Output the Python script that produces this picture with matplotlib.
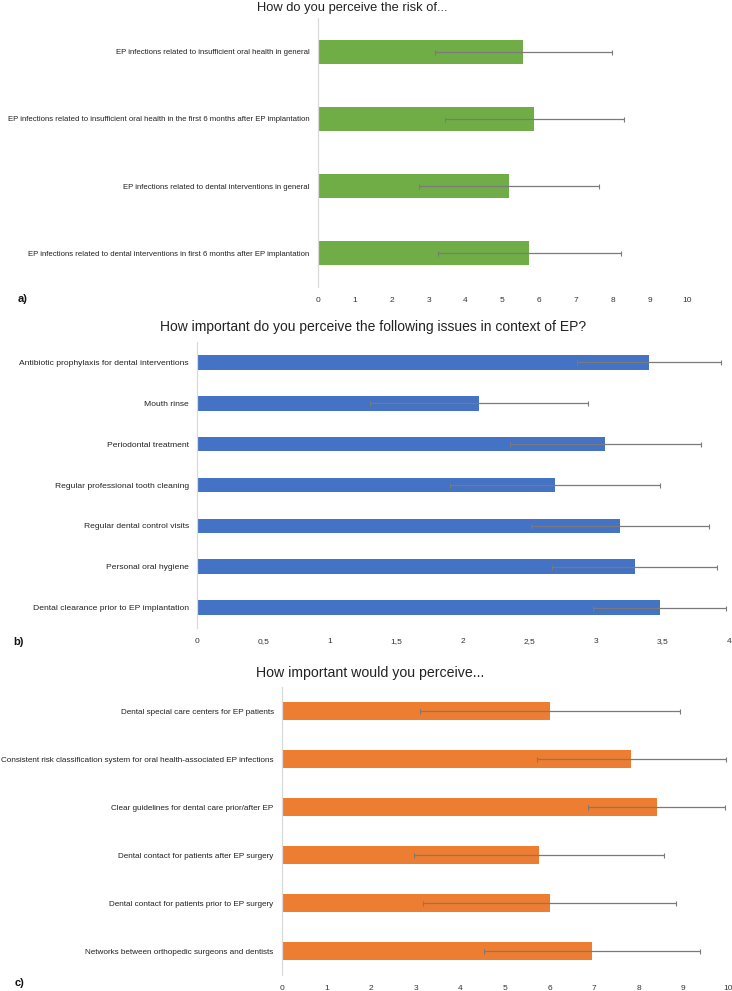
import matplotlib
matplotlib.use("Agg")
import matplotlib.pyplot as plt

FONT = "Liberation Sans"

# ---------------- data ----------------
a_title = "How do you perceive the risk of..."
a_cats = [
    "EP infections related to insufficient oral health in general",
    "EP infections related to insufficient oral health in the first 6 months after EP implantation",
    "EP infections related to dental interventions in general",
    "EP infections related to dental interventions in first 6 months after EP implantation",
]
a_means = [5.56, 5.86, 5.18, 5.72]
a_sds = [2.40, 2.43, 2.43, 2.48]
a_ticks = [0, 1, 2, 3, 4, 5, 6, 7, 8, 9, 10]
a_ticklabels = ["0", "1", "2", "3", "4", "5", "6", "7", "8", "9", "10"]

b_title = "How important do you perceive the following issues in context of EP?"
b_cats = [
    "Antibiotic prophylaxis for dental interventions",
    "Mouth rinse",
    "Periodontal treatment",
    "Regular professional tooth cleaning",
    "Regular dental control visits",
    "Personal oral hygiene",
    "Dental clearance prior to EP implantation",
]
b_means = [3.40, 2.12, 3.07, 2.69, 3.18, 3.29, 3.48]
b_sds = [0.54, 0.82, 0.72, 0.79, 0.67, 0.62, 0.50]
b_ticks = [0, 0.5, 1, 1.5, 2, 2.5, 3, 3.5, 4]
b_ticklabels = ["0", "0,5", "1", "1,5", "2", "2,5", "3", "3,5", "4"]

c_title = "How important would you perceive..."
c_cats = [
    "Dental special care centers for EP patients",
    "Consistent risk classification system for oral health-associated EP infections",
    "Clear guidelines for dental care prior/after EP",
    "Dental contact for patients after EP surgery",
    "Dental contact for patients prior to EP surgery",
    "Networks between orthopedic surgeons and dentists",
]
c_means = [6.01, 7.83, 8.40, 5.77, 6.00, 6.95]
c_sds = [2.92, 2.12, 1.54, 2.80, 2.83, 2.42]
c_ticks = [0, 1, 2, 3, 4, 5, 6, 7, 8, 9, 10]
c_ticklabels = ["0", "1", "2", "3", "4", "5", "6", "7", "8", "9", "10"]

# ---------------- figure ----------------
W, H = 732, 991
fig = plt.figure(figsize=(W / 100, H / 100), dpi=100)
fig.patch.set_facecolor("white")
renderer = fig.canvas.get_renderer()


def fit_size(text, target_px, base=10.0, maxsize=None):
    t = fig.text(0, 0, text, fontsize=base, family=FONT)
    w = t.get_window_extent(renderer=renderer).width
    t.remove()
    s = base * target_px / w
    if maxsize is not None:
        s = min(s, maxsize)
    return s


def px_axes(left, top, right, bottom):
    return fig.add_axes([left / W, 1 - bottom / H, (right - left) / W, (bottom - top) / H])


def panel(box, title, title_xy, title_w, cats, label_w, means, sds, ticks, ticklabels,
          xmax, color, letter, letter_xy):
    ax = px_axes(*box)
    pos = list(range(len(cats)))
    ax.barh(pos, means, height=0.36, color=color, zorder=2)
    ax.errorbar(means, pos, xerr=sds, fmt="none", ecolor="#7a7a7a",
                elinewidth=0.9, capsize=1.8, capthick=0.8, zorder=3)
    ax.set_ylim(len(cats) - 0.5, -0.5)
    ax.set_xlim(0, xmax)
    ax.set_yticks(pos)
    longest = max(cats, key=len)
    lsize = fit_size(longest, label_w, maxsize=6.3)
    ax.set_yticklabels(cats, fontsize=lsize, family=FONT, color="#222222")
    ax.set_xticks(ticks)
    ax.set_xticklabels(ticklabels, fontsize=6, family=FONT, color="#333333")
    for lbl in ax.get_xticklabels():
        lbl.set_verticalalignment("baseline")
    ax.tick_params(axis="both", length=0)
    ax.tick_params(axis="x", pad=10.5)
    ax.tick_params(axis="y", pad=6)
    for s in ["top", "right", "bottom"]:
        ax.spines[s].set_visible(False)
    ax.spines["left"].set_color("#d9d9d9")
    ax.spines["left"].set_linewidth(0.9)
    tsize = fit_size(title, title_w)
    fig.text(title_xy[0] / W, 1 - title_xy[1] / H, title, ha="center", va="center",
             fontsize=tsize, family=FONT, color="#222222")
    fig.text(letter_xy[0] / W, 1 - letter_xy[1] / H, letter, ha="left", va="center",
             fontsize=8, family=FONT, fontweight="bold", color="#111111")
    return ax


panel((318, 18, 687, 287), a_title, (352, 8), 191, a_cats, 304, a_means, a_sds,
      a_ticks, a_ticklabels, 10, "#70AD47", "a)", (18, 299))
panel((197, 342, 729, 628), b_title, (373, 327), 427, b_cats, 169, b_means, b_sds,
      b_ticks, b_ticklabels, 4, "#4472C4", "b)", (13, 642))
panel((282, 687, 728, 975), c_title, (370, 673), 228, c_cats, 274, c_means, c_sds,
      c_ticks, c_ticklabels, 10, "#ED7D31", "c)", (15, 983))

fig.savefig("out.png", dpi=100, facecolor="white")
